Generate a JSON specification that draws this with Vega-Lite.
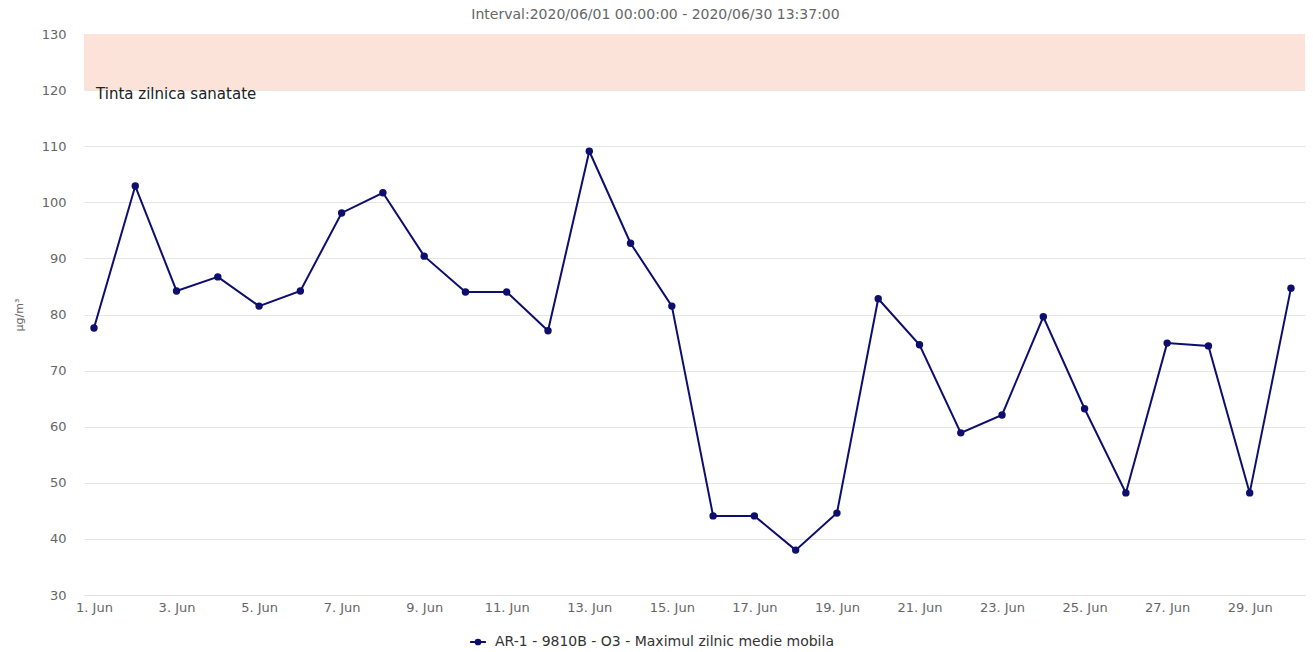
{
  "$schema": "https://vega.github.io/schema/vega-lite/v6.json",
  "width": 1221,
  "height": 561,
  "autosize": {"type": "none"},
  "padding": {"left": 84, "top": 34, "right": 8, "bottom": 57},
  "background": "#ffffff",
  "title": {
    "text": "Interval:2020/06/01 00:00:00 - 2020/06/30 13:37:00",
    "anchor": "middle",
    "frame": "group",
    "dx": -39,
    "offset": 6,
    "fontSize": 14,
    "font": "DejaVu Sans",
    "fontWeight": "normal",
    "color": "#666666"
  },
  "config": {
    "view": {"stroke": null},
    "font": "DejaVu Sans"
  },
  "datasets": {
    "series": [
      {"day": 1, "value": 77.6, "series": "AR-1 - 9810B - O3 - Maximul zilnic medie mobila"},
      {"day": 2, "value": 102.9, "series": "AR-1 - 9810B - O3 - Maximul zilnic medie mobila"},
      {"day": 3, "value": 84.2, "series": "AR-1 - 9810B - O3 - Maximul zilnic medie mobila"},
      {"day": 4, "value": 86.7, "series": "AR-1 - 9810B - O3 - Maximul zilnic medie mobila"},
      {"day": 5, "value": 81.5, "series": "AR-1 - 9810B - O3 - Maximul zilnic medie mobila"},
      {"day": 6, "value": 84.2, "series": "AR-1 - 9810B - O3 - Maximul zilnic medie mobila"},
      {"day": 7, "value": 98.1, "series": "AR-1 - 9810B - O3 - Maximul zilnic medie mobila"},
      {"day": 8, "value": 101.7, "series": "AR-1 - 9810B - O3 - Maximul zilnic medie mobila"},
      {"day": 9, "value": 90.4, "series": "AR-1 - 9810B - O3 - Maximul zilnic medie mobila"},
      {"day": 10, "value": 84.0, "series": "AR-1 - 9810B - O3 - Maximul zilnic medie mobila"},
      {"day": 11, "value": 84.0, "series": "AR-1 - 9810B - O3 - Maximul zilnic medie mobila"},
      {"day": 12, "value": 77.1, "series": "AR-1 - 9810B - O3 - Maximul zilnic medie mobila"},
      {"day": 13, "value": 109.1, "series": "AR-1 - 9810B - O3 - Maximul zilnic medie mobila"},
      {"day": 14, "value": 92.7, "series": "AR-1 - 9810B - O3 - Maximul zilnic medie mobila"},
      {"day": 15, "value": 81.5, "series": "AR-1 - 9810B - O3 - Maximul zilnic medie mobila"},
      {"day": 16, "value": 44.1, "series": "AR-1 - 9810B - O3 - Maximul zilnic medie mobila"},
      {"day": 17, "value": 44.1, "series": "AR-1 - 9810B - O3 - Maximul zilnic medie mobila"},
      {"day": 18, "value": 38.0, "series": "AR-1 - 9810B - O3 - Maximul zilnic medie mobila"},
      {"day": 19, "value": 44.6, "series": "AR-1 - 9810B - O3 - Maximul zilnic medie mobila"},
      {"day": 20, "value": 82.8, "series": "AR-1 - 9810B - O3 - Maximul zilnic medie mobila"},
      {"day": 21, "value": 74.6, "series": "AR-1 - 9810B - O3 - Maximul zilnic medie mobila"},
      {"day": 22, "value": 58.9, "series": "AR-1 - 9810B - O3 - Maximul zilnic medie mobila"},
      {"day": 23, "value": 62.1, "series": "AR-1 - 9810B - O3 - Maximul zilnic medie mobila"},
      {"day": 24, "value": 79.6, "series": "AR-1 - 9810B - O3 - Maximul zilnic medie mobila"},
      {"day": 25, "value": 63.2, "series": "AR-1 - 9810B - O3 - Maximul zilnic medie mobila"},
      {"day": 26, "value": 48.2, "series": "AR-1 - 9810B - O3 - Maximul zilnic medie mobila"},
      {"day": 27, "value": 74.9, "series": "AR-1 - 9810B - O3 - Maximul zilnic medie mobila"},
      {"day": 28, "value": 74.4, "series": "AR-1 - 9810B - O3 - Maximul zilnic medie mobila"},
      {"day": 29, "value": 48.2, "series": "AR-1 - 9810B - O3 - Maximul zilnic medie mobila"},
      {"day": 30, "value": 84.7, "series": "AR-1 - 9810B - O3 - Maximul zilnic medie mobila"}
    ],
    "band": [
      {"from": 120, "to": 130, "label": "Tinta zilnica sanatate", "xstart": 0.758, "xend": 30.34, "xlabel": 1.05}
    ]
  },
  "layer": [
    {
      "data": {"name": "band"},
      "mark": {"type": "rect", "color": "#fce3d9", "opacity": 1},
      "encoding": {
        "x": {"field": "xstart", "type": "quantitative", "scale": {"domain": [0.758, 30.34], "nice": false, "zero": false}},
        "x2": {"field": "xend"},
        "y": {"field": "from", "type": "quantitative"},
        "y2": {"field": "to"}
      }
    },
    {
      "data": {"name": "band"},
      "mark": {"type": "text", "align": "left", "baseline": "middle", "dy": 4, "fontSize": 15, "color": "#222222", "font": "DejaVu Sans"},
      "encoding": {
        "x": {"field": "xlabel", "type": "quantitative"},
        "y": {"field": "from", "type": "quantitative"},
        "text": {"field": "label"}
      }
    },
    {
      "data": {"name": "series"},
      "mark": {"type": "line", "strokeWidth": 2, "point": {"filled": true, "size": 55, "opacity": 1}},
      "encoding": {
        "x": {
          "field": "day",
          "type": "quantitative",
          "scale": {"domain": [0.758, 30.34], "nice": false, "zero": false},
          "axis": {
            "title": null,
            "values": [1, 3, 5, 7, 9, 11, 13, 15, 17, 19, 21, 23, 25, 27, 29],
            "labelExpr": "datum.value + '. Jun'",
            "grid": false,
            "ticks": false,
            "domain": true,
            "domainColor": "#e0e0e0",
            "domainWidth": 1,
            "labelColor": "#666666",
            "labelFontSize": 13,
            "labelPadding": 6,
            "labelFont": "DejaVu Sans"
          }
        },
        "y": {
          "field": "value",
          "type": "quantitative",
          "scale": {"domain": [30, 130], "nice": false, "zero": false},
          "axis": {
            "title": "µg/m³",
            "titleColor": "#666666",
            "titleFontSize": 11,
            "titleFontWeight": "normal",
            "titleFont": "DejaVu Sans",
            "titlePadding": 17,
            "values": [30, 40, 50, 60, 70, 80, 90, 100, 110, 120, 130],
            "grid": true,
            "gridColor": "#e6e6e6",
            "ticks": false,
            "domain": false,
            "labelColor": "#666666",
            "labelFontSize": 13,
            "labelPadding": 18,
            "labelFont": "DejaVu Sans"
          }
        },
        "color": {
          "field": "series",
          "type": "nominal",
          "scale": {"range": ["#0e0e6e"]},
          "legend": {
            "title": null,
            "orient": "none",
            "legendX": 385,
            "legendY": 599,
            "symbolType": "M-1,0L1,0M-0.3,0A0.3,0.3 0 1,1 0.3,0A0.3,0.3 0 1,1 -0.3,0Z",
            "symbolStrokeWidth": 2,
            "symbolSize": 250,
            "symbolFillColor": "#0e0e6e",
            "symbolStrokeColor": "#0e0e6e",
            "labelLimit": 0,
            "labelOffset": 8,
            "labelColor": "#333333",
            "labelFontSize": 14,
            "labelFont": "DejaVu Sans",
            "encode": {"symbols": {"update": {"fill": {"value": "#0e0e6e"}, "stroke": {"value": "#0e0e6e"}}}}
          }
        }
      }
    }
  ]
}
